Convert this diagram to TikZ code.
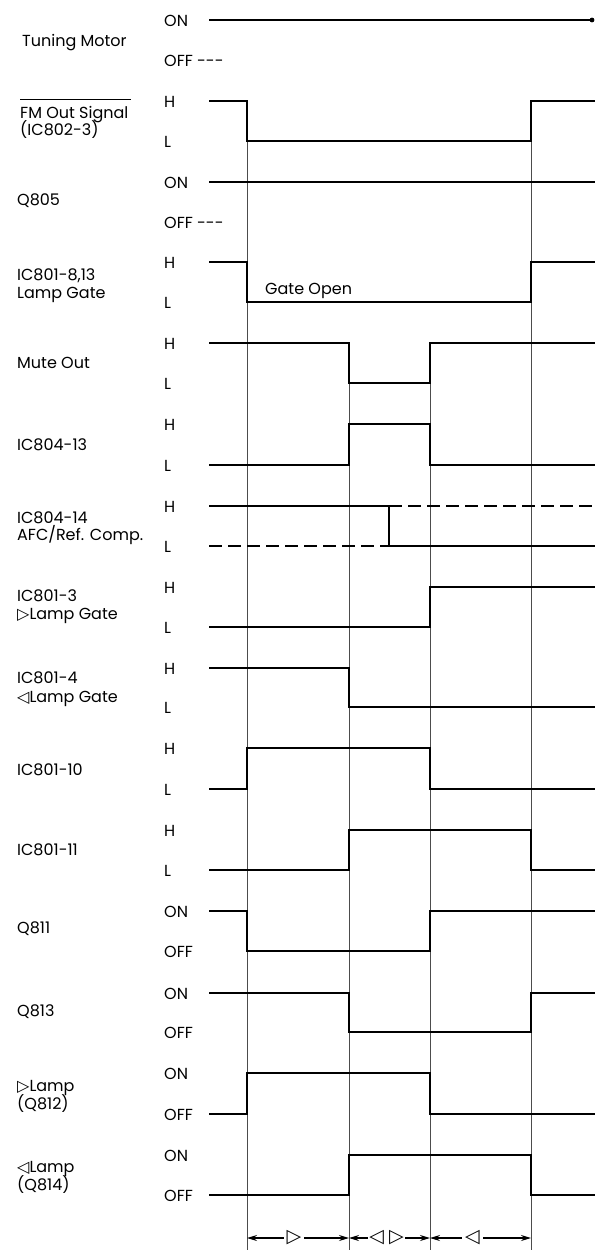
\documentclass[tikz,border=0pt]{standalone}
\usepackage{fontspec}
\setmainfont{Poppins}
\newfontfamily\sym{DejaVu Sans}
\usetikzlibrary{arrows.meta}
\tikzset{
  sig/.style={line width=1.7pt, line join=miter},
  dsig/.style={sig, dash pattern=on 13pt off 6pt},
  guide/.style={line width=0.8pt, black!70},
  lvl/.style={anchor=base west, inner sep=0pt, font=\fontsize{16}{18}\selectfont},
  lbl/.style={anchor=base west, inner sep=0pt, font=\fontsize{16}{18}\selectfont},
  dim/.style={line width=1.2pt, {Stealth[length=10pt,width=6pt]}-{Stealth[length=10pt,width=6pt]}},
  tri/.style={fill=white, inner sep=3pt, font=\sym\fontsize{19}{21}\selectfont},
}
\newcommand{\rtri}{\smash{\sym\fontsize{16}{16}\selectfont ▷}}
\newcommand{\ltri}{\smash{\sym\fontsize{16}{16}\selectfont ◁}}
\begin{document}
\begin{tikzpicture}[x=1pt,y=-1pt]
\useasboundingbox (0,0) rectangle (595,1250);
\def\S{209}\def\A{247}\def\B{349}\def\C{430}\def\D{531}\def\E{595}
% guide lines
\draw[guide] (\A,101) coordinate (ga) -- (\A,1250);
\draw[guide] (\D,101) coordinate (gd) -- (\D,1250);
\draw[guide] (\B,343) coordinate (gb) -- (\B,1250);
\draw[guide] (\C,343) coordinate (gc) -- (\C,1250);

% left labels
\node[lbl] (n1) at (22,46) {Tuning Motor};
\node[lbl] (n2) at (20,118) {FM Out Signal};
\draw[line width=1pt] ([yshift=6pt]n2.north west) -- ([yshift=6pt,xshift=2pt]n2.north east);
\node[lbl] (n2b) at (20,135) {(IC802-3)};
\node[lbl] (n3) at (17,205) {Q805};
\node[lbl] (n4) at (17,280) {IC801-8,13};
\node[lbl] (n4b) at (17,298) {Lamp Gate};
\node[lbl] (n5) at (17,368) {Mute Out};
\node[lbl] (n6) at (17,450) {IC804-13};
\node[lbl] (n7) at (17,523) {IC804-14};
\node[lbl] (n7b) at (17,540) {AFC/Ref. Comp.};
\node[lbl] (n8) at (17,601) {IC801-3};
\node[lbl] (n8b) at (17,619) {\rtri Lamp Gate};
\node[lbl] (n9) at (17,683) {IC801-4};
\node[lbl] (n9b) at (17,702) {\ltri Lamp Gate};
\node[lbl] (n10) at (17,775) {IC801-10};
\node[lbl] (n11) at (17,855) {IC801-11};
\node[lbl] (n12) at (17,933) {Q811};
\node[lbl] (n13) at (17,1016) {Q813};
\node[lbl] (n14) at (17,1091) {\rtri Lamp};
\node[lbl] (n14b) at (17,1109) {(Q812)};
\node[lbl] (n15) at (17,1172) {\ltri Lamp};
\node[lbl] (n15b) at (17,1190) {(Q814)};

% level labels
\foreach \y/\t [count=\i] in {20/ON,60/OFF\ -{}-{}-,101/H,141/L,182/ON,222/OFF\ -{}-{}-,262/H,302/L,
  343/H,383/L,424/H,465/L,506/H,546/L,587/H,627/L,668/H,707/L,748/H,789/L,
  830/H,870/L,911/ON,951/OFF,993/ON,1032/OFF,1073/ON,1114/OFF,1155/ON,1195/OFF}
  \node[lvl] (lv\i) at (164,\y+6) {\t};

% signals
\draw[sig] (\S,20) -- (592,20) coordinate (tmend);
\fill (tmend) circle (2.4pt);
\draw[sig] (\S,101) -- (\A,101) -- (\A,141) -- (\D,141) -- (\D,101) -- (\E,101);
\draw[sig] (\S,182) -- (\E,182);
\draw[sig] (\S,262) -- (\A,262) -- (\A,302) -- (\D,302) -- (\D,262) -- (\E,262);
\node[lbl] (go) at (265,294) {Gate Open};
\draw[sig] (\S,343) -- (\B,343) -- (\B,383) -- (\C,383) -- (\C,343) -- (\E,343);
\draw[sig] (\S,465) -- (\B,465) -- (\B,424) -- (\C,424) -- (\C,465) -- (\E,465);
\draw[sig] (\S,506) -- (389,506) -- (389,546) -- (\E,546);
\draw[dsig] (389,506) -- (\E,506);
\draw[dsig] (\S,546) -- (389,546);
\draw[sig] (\S,627) -- (\C,627) -- (\C,587) -- (\E,587);
\draw[sig] (\S,668) -- (\B,668) -- (\B,707) -- (\E,707);
\draw[sig] (\S,789) -- (\A,789) -- (\A,748) -- (\C,748) -- (\C,789) -- (\E,789);
\draw[sig] (\S,870) -- (\B,870) -- (\B,830) -- (\D,830) -- (\D,870) -- (\E,870);
\draw[sig] (\S,911) -- (\A,911) -- (\A,951) -- (\C,951) -- (\C,911) -- (\E,911);
\draw[sig] (\S,993) -- (\B,993) -- (\B,1032) -- (\D,1032) -- (\D,993) -- (\E,993);
\draw[sig] (\S,1114) -- (\A,1114) -- (\A,1073) -- (\C,1073) -- (\C,1114) -- (\E,1114);
\draw[sig] (\S,1195) -- (\B,1195) -- (\B,1155) -- (\D,1155) -- (\D,1195) -- (\E,1195);

% bottom dimension arrows
\coordinate (pa) at (\A,1238);
\coordinate (pb) at (\B,1238);
\coordinate (pc) at (\C,1238);
\coordinate (pd) at (\D,1238);
\draw[dim] (pa) -- node[tri,xshift=-4pt] (t1) {▷} (pb);
\draw[dim] (pb) -- node[tri,xshift=-3pt,inner xsep=1pt] (t2) {◁\hspace{5pt}▷} (pc);
\draw[dim] (pc) -- node[tri,xshift=-8pt] (t3) {◁} (pd);
\end{tikzpicture}
\end{document}
